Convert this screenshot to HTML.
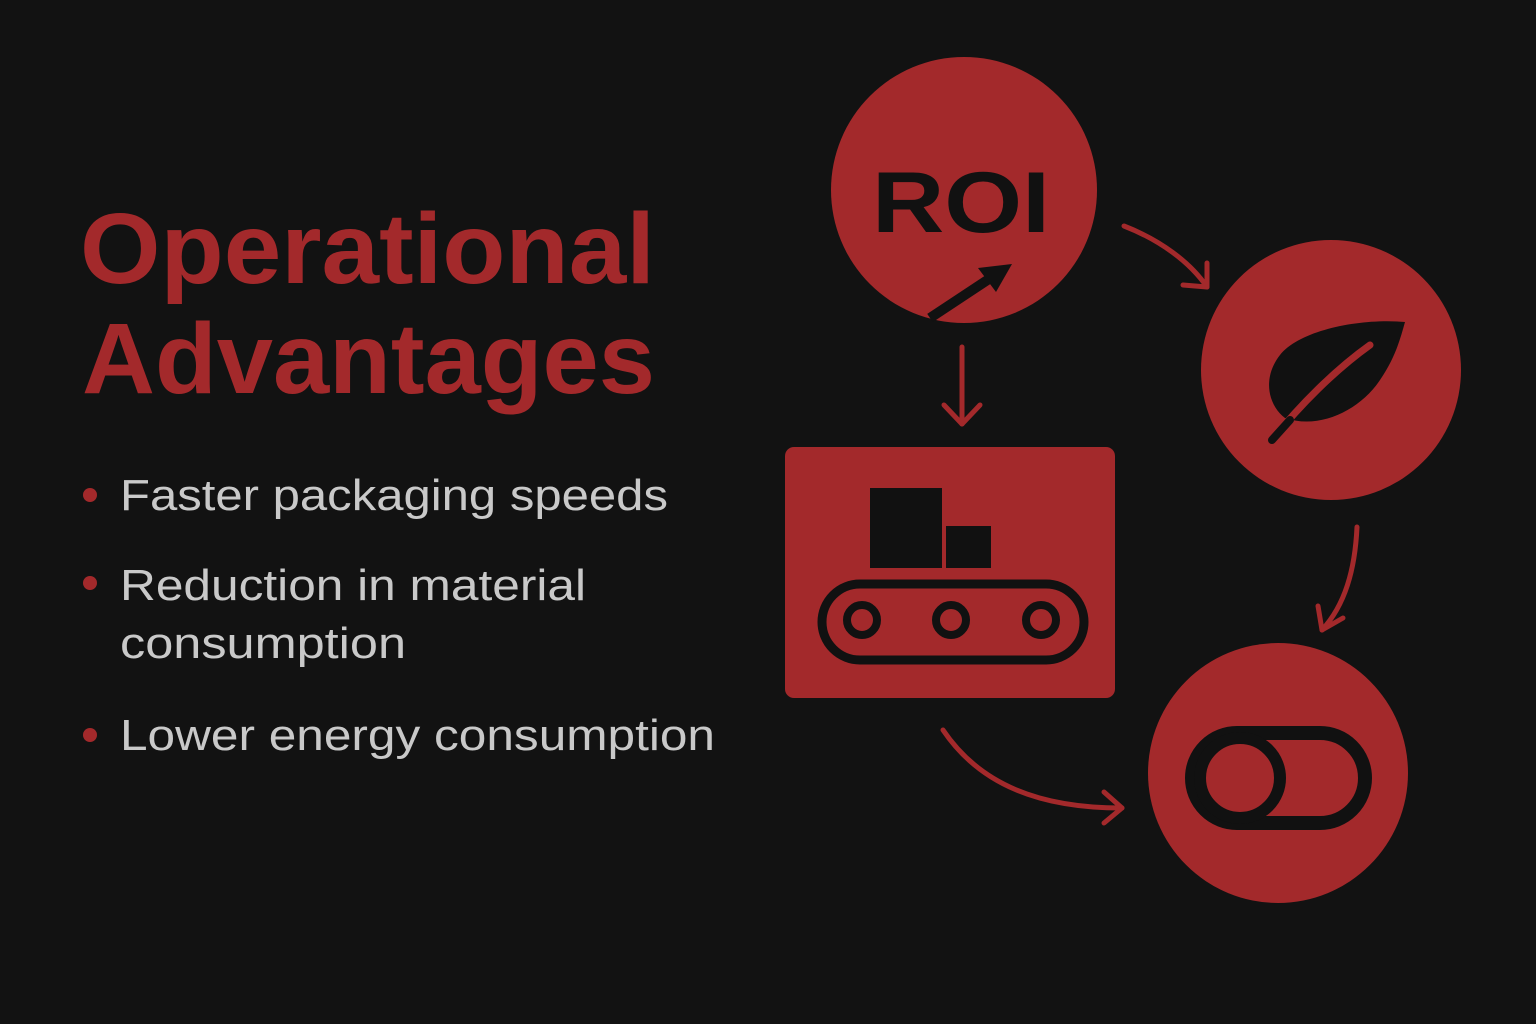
<!DOCTYPE html>
<html><head><meta charset="utf-8"><style>
html,body{margin:0;padding:0;background:#121212;}
svg{display:block}
</style></head><body>
<svg width="1536" height="1024" viewBox="0 0 1536 1024">
<rect width="1536" height="1024" fill="#121212"/>
<g font-family="Liberation Sans, sans-serif">
<text x="80" y="283" font-size="100" font-weight="bold" fill="#a3292b" textLength="575" lengthAdjust="spacingAndGlyphs">Operational</text>
<text x="82" y="393" font-size="100" font-weight="bold" fill="#a3292b" textLength="573" lengthAdjust="spacingAndGlyphs">Advantages</text>
<g fill="#a3292b">
<circle cx="90" cy="495" r="7"/>
<circle cx="90" cy="583" r="7"/>
<circle cx="90" cy="735" r="7"/>
</g>
<g fill="#c9c9c9" font-size="44">
<text x="120" y="510" textLength="548" lengthAdjust="spacingAndGlyphs">Faster packaging speeds</text>
<text x="120" y="600" textLength="466" lengthAdjust="spacingAndGlyphs">Reduction in material</text>
<text x="120" y="658" textLength="286" lengthAdjust="spacingAndGlyphs">consumption</text>
<text x="120" y="750" textLength="595" lengthAdjust="spacingAndGlyphs">Lower energy consumption</text>
</g>
</g>
<g>
<circle cx="964" cy="190" r="133" fill="#a3292b"/>
<text x="872" y="232" textLength="178" lengthAdjust="spacingAndGlyphs" font-family="Liberation Sans, sans-serif" font-size="86" font-weight="bold" fill="#111">ROI</text>
<line x1="930" y1="318" x2="995" y2="275" stroke="#111" stroke-width="10"/>
<polygon points="1012,264 978,268 996,292" fill="#111"/>
</g>
<g>
<circle cx="1331" cy="370" r="130" fill="#a3292b"/>
<path d="M1405,322 C1360,318 1300,330 1280,355 C1262,378 1268,405 1285,418 C1320,430 1360,410 1380,380 C1395,358 1400,340 1405,322 Z" fill="#111"/>
<path d="M1272,440 C1300,405 1335,370 1370,345" stroke="#a3292b" stroke-width="7" fill="none" stroke-linecap="round"/>
<path d="M1272,440 L1290,420" stroke="#111" stroke-width="8" stroke-linecap="round"/>
</g>
<g>
<circle cx="1278" cy="773" r="130" fill="#a3292b"/>
<rect x="1192" y="733" width="173" height="90" rx="45" fill="none" stroke="#111" stroke-width="14"/>
<circle cx="1240" cy="778" r="40" fill="#a3292b" stroke="#111" stroke-width="12"/>
</g>
<g>
<rect x="785" y="447" width="330" height="251" rx="9" fill="#a3292b"/>
<rect x="870" y="488" width="72" height="80" fill="#111"/>
<rect x="946" y="526" width="45" height="42" fill="#111"/>
<rect x="822" y="584" width="262" height="76" rx="38" fill="none" stroke="#111" stroke-width="9"/>
<g fill="none" stroke="#111" stroke-width="8">
<circle cx="862" cy="620" r="15"/><circle cx="951" cy="620" r="15"/><circle cx="1041" cy="620" r="15"/>
</g>
</g>
<g stroke="#a3292b" stroke-width="5" fill="none" stroke-linecap="round" stroke-linejoin="round">
<g><path d="M962,347 L962,424"/><path d="M944,405 L962,424 L980,405"/></g>
<g><path d="M1124,226 C1160,240 1190,262 1207,287"/><path d="M1183,285 L1207,287 L1207,263"/></g>
<g><path d="M1357,527 C1355,570 1345,605 1322,630"/><path d="M1318,606 L1322,630 L1343,618"/></g>
<g><path d="M943,730 C980,785 1040,808 1122,808"/><path d="M1104,792 L1122,808 L1104,823"/></g>
</g>
</svg>
</body></html>
